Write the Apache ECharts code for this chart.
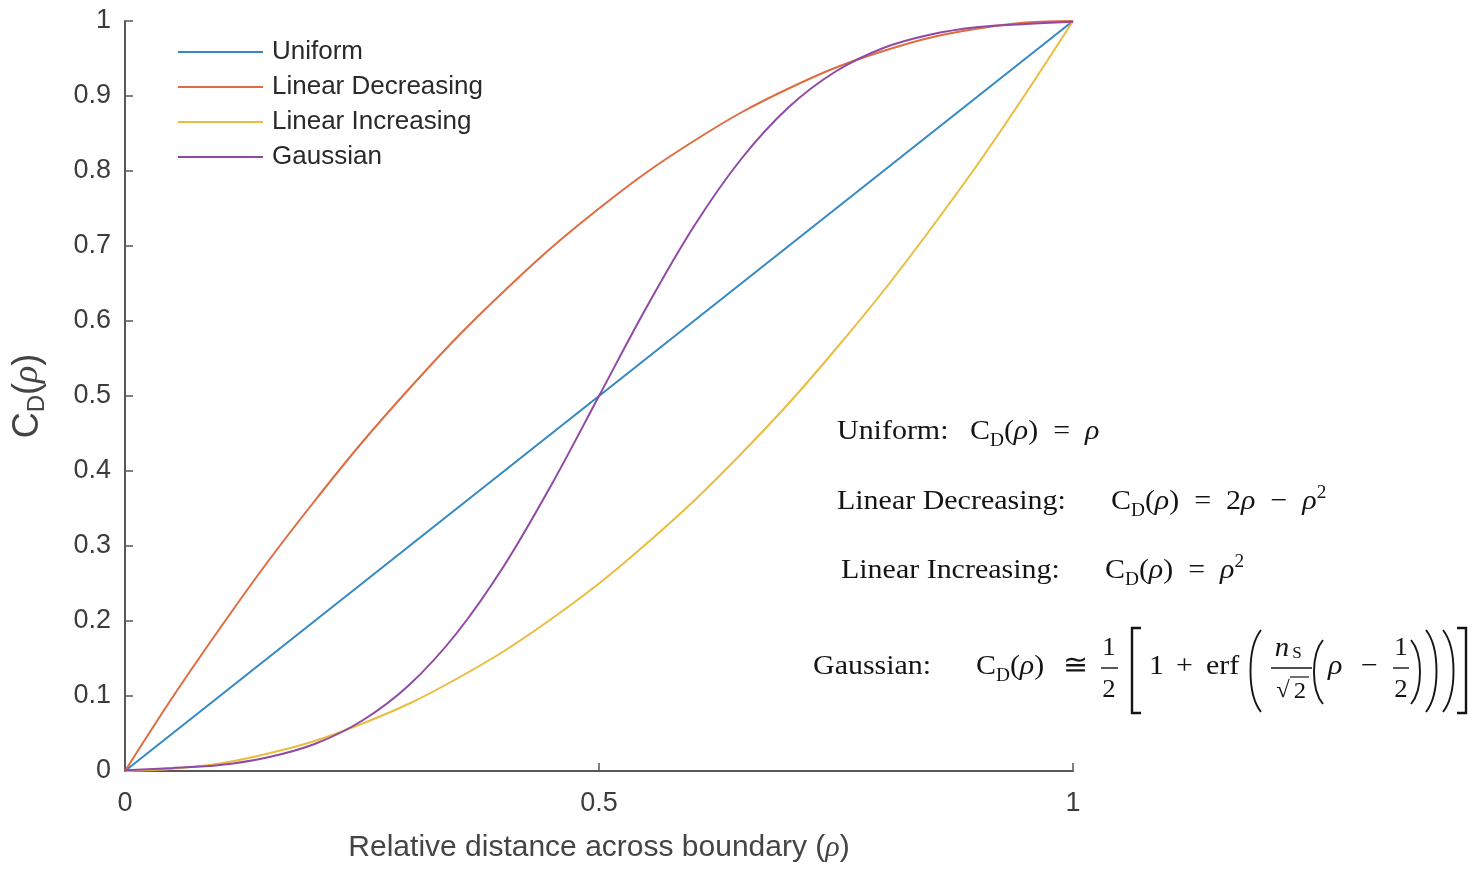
<!DOCTYPE html>
<html>
<head>
<meta charset="utf-8">
<title>Concentration profile across boundary</title>
<script src="https://cdn.jsdelivr.net/npm/echarts@6/dist/echarts.min.js"></script>
<style>
  html, body { margin: 0; padding: 0; background: #ffffff; }
  #chart { width: 1480px; height: 873px; }
</style>
</head>
<body>
<div id="chart"></div>
<script>
// Relative distance across the boundary (rho)
const rho = [0, 0.05, 0.1, 0.15, 0.2, 0.25, 0.3, 0.35, 0.4, 0.45, 0.5,
             0.55, 0.6, 0.65, 0.7, 0.75, 0.8, 0.85, 0.9, 0.95, 1];

// C_D(rho) for each profile
const uniform = [0, 0.05, 0.1, 0.15, 0.2, 0.25, 0.3, 0.35, 0.4, 0.45, 0.5,
                 0.55, 0.6, 0.65, 0.7, 0.75, 0.8, 0.85, 0.9, 0.95, 1];
const linearDecreasing = [0, 0.098, 0.19, 0.278, 0.36, 0.438, 0.51, 0.578, 0.64, 0.698, 0.75,
                          0.798, 0.84, 0.878, 0.91, 0.938, 0.96, 0.978, 0.99, 0.998, 1];
const linearIncreasing = [0, 0.003, 0.01, 0.023, 0.04, 0.063, 0.09, 0.123, 0.16, 0.203, 0.25,
                          0.303, 0.36, 0.423, 0.49, 0.563, 0.64, 0.723, 0.81, 0.903, 1];
const gaussian = [0.001, 0.004, 0.008, 0.018, 0.036, 0.067, 0.115, 0.184, 0.274, 0.382, 0.5,
                  0.618, 0.726, 0.816, 0.885, 0.933, 0.964, 0.982, 0.992, 0.996, 0.999];

const seriesNames = ['Uniform', 'Linear Decreasing', 'Linear Increasing', 'Gaussian'];
const seriesValues = [uniform, linearDecreasing, linearIncreasing, gaussian];
const seriesColors = ['#3488c4', '#df6c40', '#ebbd3e', '#9049a5'];

const xTicks = { min: 0, max: 1, step: 0.5 };
const yTicks = { min: 0, max: 1, step: 0.1 };

const chart = echarts.init(document.getElementById('chart'), null, { renderer: 'canvas' });

const sans = 'Liberation Sans, Arial, Helvetica, sans-serif';
const serif = 'Liberation Serif, Times New Roman, serif';
const axisGrey = '#585858';
const labelGrey = '#3c3c3c';
const ink = '#141414';

// ---- Formula annotations (drawn as graphic text / strokes) ----
const SX = 1.07;           // horizontal stretch of the serif formula text
const FS = 28;             // formula font size

const mathRich = {
  n:   { fontFamily: serif, fontSize: FS, lineHeight: 36, color: ink },
  i:   { fontFamily: serif, fontSize: FS, lineHeight: 36, color: ink, fontStyle: 'italic' },
  sub: { fontFamily: serif, fontSize: 18, lineHeight: 18, color: ink, verticalAlign: 'bottom' },
  sup: { fontFamily: serif, fontSize: 18, lineHeight: 22, color: ink, verticalAlign: 'top' }
};

function mtext(x, y, text, extra) {
  return Object.assign({
    type: 'text', x: x, y: y, scaleX: SX, silent: true,
    style: { text: text, rich: mathRich, fontFamily: serif, fontSize: FS, fill: ink,
             textAlign: 'left', textVerticalAlign: 'middle' }
  }, extra || {});
}
function ctext(x, y, text, size, italic) {
  return {
    type: 'text', x: x, y: y, scaleX: SX, silent: true,
    style: { text: text, fontFamily: serif, fontSize: size || 24, fill: ink,
             fontStyle: italic ? 'italic' : 'normal',
             textAlign: 'center', textVerticalAlign: 'middle' }
  };
}
function hline(x1, x2, y, w) {
  return { type: 'line', silent: true, shape: { x1: x1, y1: y, x2: x2, y2: y },
           style: { stroke: ink, lineWidth: w || 1.4 } };
}
function paren(xl, xr, yt, yb, open) {
  const h = yb - yt;
  const xs = open ? xr : xl, xc = open ? xl : xr;
  return { type: 'bezierCurve', silent: true,
           shape: { x1: xs, y1: yt, cpx1: xc, cpy1: yt + h * 0.22,
                    cpx2: xc, cpy2: yb - h * 0.22, x2: xs, y2: yb },
           style: { stroke: ink, lineWidth: 1.9, fill: null } };
}
function bracket(xv, xe, yt, yb) {
  return { type: 'polyline', silent: true,
           shape: { points: [[xe, yt], [xv, yt], [xv, yb], [xe, yb]] },
           style: { stroke: ink, lineWidth: 2.4, fill: null } };
}

const CD = '{n|C}{sub|D}{n|(}{i|ρ}{n|)}';

const formulas = [
  // Uniform
  mtext(837, 432, '{n|Uniform:}'),
  mtext(970, 432, CD + '{n|  =  }{i|ρ}'),
  // Linear decreasing
  mtext(837, 502, '{n|Linear Decreasing:}'),
  mtext(1111, 502, CD + '{n|  =  2}{i|ρ}{n|  −  }{i|ρ}{sup|2}'),
  // Linear increasing
  mtext(841, 571, '{n|Linear Increasing:}'),
  mtext(1105, 571, CD + '{n|  =  }{i|ρ}{sup|2}'),
  // Gaussian
  mtext(813, 667, '{n|Gaussian:}'),
  mtext(976, 667, CD),
  mtext(1063, 667, '{n|≅}'),
  ctext(1109, 648, '1', 25),
  hline(1101, 1118, 668),
  ctext(1109, 690, '2', 25),
  bracket(1132, 1141, 628, 713),
  mtext(1149, 667, '{n|1}'),
  mtext(1176, 667, '{n|+}'),
  mtext(1206, 667, '{n|erf}'),
  paren(1247, 1261, 630, 712, true),
  ctext(1282, 649, 'n', 27, true),
  ctext(1297, 654, 'S', 16, false),
  hline(1271, 1312, 668),
  ctext(1283, 691, '√', 23),
  hline(1290, 1309, 677, 1.2),
  ctext(1300, 692, '2', 23),
  paren(1311, 1323, 640, 704, true),
  mtext(1328, 667, '{i|ρ}'),
  mtext(1361, 667, '{n|−}'),
  ctext(1401, 648, '1', 25),
  hline(1393, 1409, 668),
  ctext(1401, 690, '2', 25),
  paren(1411, 1423, 640, 704, false),
  paren(1426, 1440, 630, 712, false),
  paren(1443, 1457, 630, 712, false),
  bracket(1466, 1457, 628, 713)
];

const option = {
  animation: false,
  backgroundColor: '#ffffff',
  grid: { left: 125, right: 407, top: 21, bottom: 102, containLabel: false, outerBoundsMode: 'none' },
  legend: {
    orient: 'vertical',
    left: 173,
    top: 34,
    padding: 5,
    itemWidth: 85,
    itemHeight: 2,
    itemGap: 9,
    icon: 'rect',
    data: seriesNames,
    textStyle: { fontFamily: sans, fontSize: 26, color: '#2a2a2a', lineHeight: 26,
                 padding: [0, 0, 0, 4] }
  },
  xAxis: {
    type: 'value',
    min: xTicks.min, max: xTicks.max, interval: xTicks.step,
    name: 'Relative distance across boundary ({i|ρ})',
    nameLocation: 'middle',
    nameGap: 62,
    nameTextStyle: {
      fontFamily: sans, fontSize: 30, color: '#444444',
      rich: { i: { fontFamily: serif, fontStyle: 'italic', fontSize: 30, color: '#444444' } }
    },
    axisLine: { show: true, onZero: false, lineStyle: { color: axisGrey, width: 2 } },
    axisTick: { show: true, inside: true, length: 8, lineStyle: { color: axisGrey, width: 1.5 } },
    axisLabel: { fontFamily: sans, fontSize: 27, color: labelGrey, margin: 19 },
    splitLine: { show: false }
  },
  yAxis: {
    type: 'value',
    min: yTicks.min, max: yTicks.max, interval: yTicks.step,
    name: '{c|C}{s|D}{c|(}{r|ρ}{c|)}',
    nameLocation: 'middle',
    nameGap: 76,
    nameTextStyle: {
      rich: {
        c: { fontFamily: sans, fontSize: 36, color: '#444444', lineHeight: 42 },
        r: { fontFamily: serif, fontStyle: 'italic', fontSize: 36, color: '#444444', lineHeight: 42 },
        s: { fontFamily: sans, fontSize: 24, color: '#444444', lineHeight: 24, verticalAlign: 'bottom' }
      }
    },
    axisLine: { show: true, onZero: false, lineStyle: { color: axisGrey, width: 2 } },
    axisTick: { show: true, inside: true, length: 8, lineStyle: { color: axisGrey, width: 1.5 } },
    axisLabel: { fontFamily: sans, fontSize: 27, color: labelGrey, margin: 14 },
    splitLine: { show: false }
  },
  series: seriesNames.map(function (name, k) {
    return {
      name: name,
      type: 'line',
      data: rho.map(function (x, i) { return [x, seriesValues[k][i]]; }),
      symbol: 'none',
      smooth: k === 0 ? false : 0.35,
      color: seriesColors[k],
      lineStyle: { color: seriesColors[k], width: 2 },
      z: 2 + k
    };
  }),
  graphic: formulas
};

chart.setOption(option);
</script>
</body>
</html>
